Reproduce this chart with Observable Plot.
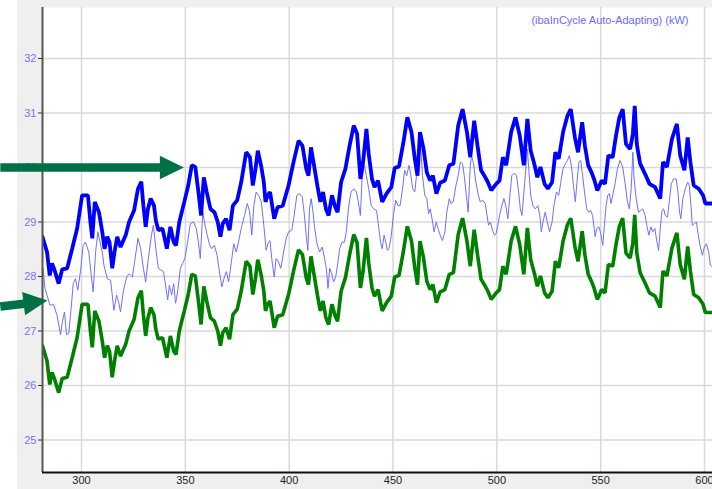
<!DOCTYPE html>
<html>
<head>
<meta charset="utf-8">
<script src="https://cdn.jsdelivr.net/npm/d3@7"></script>
<script src="https://cdn.jsdelivr.net/npm/@observablehq/plot@0.6"></script>
<style>
  html, body { margin: 0; padding: 0; background: #ffffff; }
  #chart { width: 712px; height: 489px; }
</style>
</head>
<body>
<div id="chart"></div>
<script>
// ---- axis ticks / labels ----
const xTicks = [300, 350, 400, 450, 500, 550, 600];
const yTicks = [25, 26, 27, 28, 29, 30, 31, 32];
const xDomain = [281.22, 603.85];
const yDomain = [24.404, 32.936];
const legendLabel = "(ibaInCycle Auto-Adapting) (kW)";

// ---- upper limit (thick blue) [x, kW] ----
const upper = [
[281.2,28.73],[283.4,28.45],[284.7,28.02],[285.8,28.24],[287.0,28.12],[289.0,27.87],[290.7,28.13],[293.1,28.15],
[295.5,28.51],[297.9,28.88],[300.3,29.49],[303.1,29.49],[304.3,29.00],[305.2,28.70],[306.4,29.37],[308.4,29.18],
[310.0,28.82],[311.1,28.51],[312.4,28.73],[313.5,28.63],[314.8,28.15],[315.9,28.45],[317.2,28.73],[318.8,28.54],
[321.3,28.76],[322.9,29.00],[325.3,29.21],[327.2,29.61],[328.8,29.74],[329.8,29.30],[330.9,28.91],[332.0,29.24],
[333.3,29.43],[334.9,29.30],[335.8,29.03],[337.0,28.85],[339.0,28.88],[341.1,28.51],[342.8,28.91],[344.4,28.63],
[345.5,28.57],[347.1,29.00],[349.5,29.37],[351.4,29.67],[353.1,30.04],[354.8,30.01],[356.3,29.55],[357.6,29.12],
[358.9,29.82],[360.3,29.55],[362.1,29.24],[364.0,29.18],[365.6,29.00],[366.9,28.73],[368.0,28.97],[369.6,29.06],
[371.3,28.85],[372.9,29.30],[375.0,29.40],[376.9,29.73],[379.3,30.28],[381.1,30.19],[382.5,29.67],[383.7,29.95],
[384.9,30.31],[386.6,30.01],[387.8,29.73],[388.6,29.37],[389.6,29.49],[390.8,29.55],[392.8,29.06],[394.4,29.27],
[396.9,29.30],[399.7,29.67],[402.1,30.10],[404.5,30.49],[406.4,30.40],[408.2,29.98],[409.3,29.85],[410.5,30.37],
[412.1,30.01],[413.7,29.64],[415.0,29.37],[416.3,29.55],[417.7,29.24],[419.0,29.12],[420.6,29.49],[422.2,29.27],
[423.3,29.18],[425.0,29.73],[427.1,29.98],[429.1,30.40],[431.1,30.77],[432.7,30.62],[434.3,29.79],[435.6,30.10],
[437.2,30.71],[438.3,30.25],[439.9,29.79],[441.1,29.64],[442.8,29.76],[444.8,29.37],[446.9,29.52],[449.2,29.64],
[450.8,29.99],[452.9,30.02],[455.0,30.46],[456.9,30.92],[458.9,30.65],[460.5,30.16],[461.8,29.85],[463.0,30.65],
[464.7,30.34],[466.3,29.91],[467.9,29.76],[469.2,29.85],[470.9,29.52],[472.7,29.72],[475.0,29.76],[477.1,30.04],
[479.1,30.07],[481.4,30.77],[483.5,31.07],[485.6,30.65],[487.2,30.19],[489.1,30.86],[490.7,30.40],[492.4,29.95],
[494.0,29.85],[495.7,29.73],[497.3,29.58],[499.7,29.70],[501.3,29.76],[502.9,30.19],[504.5,30.04],[506.9,30.65],
[509.0,30.92],[511.0,30.59],[513.0,30.04],[514.7,30.89],[516.3,30.31],[518.2,30.04],[519.5,29.82],[521.0,30.01],
[523.0,29.70],[524.6,29.61],[526.6,29.73],[528.2,30.28],[529.8,30.16],[531.9,30.65],[534.0,30.95],[535.6,31.07],
[537.6,30.55],[539.1,30.28],[541.1,30.83],[542.4,30.40],[544.0,30.04],[545.6,29.91],[546.8,29.79],[548.4,29.58],
[550.5,29.76],[552.1,29.70],[553.7,30.22],[555.8,30.19],[557.4,30.59],[559.0,30.92],[560.6,31.07],[562.2,30.43],
[564.2,30.34],[565.5,30.62],[566.4,31.13],[567.4,30.43],[569.0,30.07],[571.4,29.88],[573.5,29.70],[576.2,29.64],
[578.7,29.43],[580.0,30.10],[581.9,30.01],[584.3,30.52],[586.7,30.80],[588.3,30.22],[590.3,29.95],[591.9,30.55],
[593.2,30.10],[594.8,29.67],[597.2,29.61],[599.3,29.49],[600.4,29.34],[603.8,29.34]
];

// ---- lower limit (thick green) [x, kW] ----
const lower = [
[281.2,26.73],[283.4,26.45],[284.7,26.02],[285.8,26.24],[287.0,26.12],[289.0,25.87],[290.7,26.13],[293.1,26.15],
[295.5,26.51],[297.9,26.88],[300.3,27.49],[303.1,27.49],[304.3,27.00],[305.2,26.70],[306.4,27.37],[308.4,27.18],
[310.0,26.82],[311.1,26.51],[312.4,26.73],[313.5,26.63],[314.8,26.15],[315.9,26.45],[317.2,26.73],[318.8,26.54],
[321.3,26.76],[322.9,27.00],[325.3,27.21],[327.2,27.61],[328.8,27.74],[329.8,27.30],[330.9,26.91],[332.0,27.24],
[333.3,27.43],[334.9,27.30],[335.8,27.03],[337.0,26.85],[339.0,26.88],[341.1,26.51],[342.8,26.91],[344.4,26.63],
[345.5,26.57],[347.1,27.00],[349.5,27.37],[351.4,27.67],[353.1,28.04],[354.8,28.01],[356.3,27.55],[357.6,27.12],
[358.9,27.82],[360.3,27.55],[362.1,27.24],[364.0,27.18],[365.6,27.00],[366.9,26.73],[368.0,26.97],[369.6,27.06],
[371.3,26.85],[372.9,27.30],[375.0,27.40],[376.9,27.73],[379.3,28.28],[381.1,28.19],[382.5,27.67],[383.7,27.95],
[384.9,28.31],[386.6,28.01],[387.8,27.73],[388.6,27.37],[389.6,27.49],[390.8,27.55],[392.8,27.06],[394.4,27.27],
[396.9,27.30],[399.7,27.67],[402.1,28.10],[404.5,28.49],[406.4,28.40],[408.2,27.98],[409.3,27.85],[410.5,28.37],
[412.1,28.01],[413.7,27.64],[415.0,27.37],[416.3,27.55],[417.7,27.24],[419.0,27.12],[420.6,27.49],[422.2,27.27],
[423.3,27.18],[425.0,27.73],[427.1,27.98],[429.1,28.40],[431.1,28.77],[432.7,28.62],[434.3,27.79],[435.6,28.10],
[437.2,28.71],[438.3,28.25],[439.9,27.79],[441.1,27.64],[442.8,27.76],[444.8,27.37],[446.9,27.52],[449.2,27.64],
[450.8,27.99],[452.9,28.02],[455.0,28.46],[456.9,28.92],[458.9,28.65],[460.5,28.16],[461.8,27.85],[463.0,28.65],
[464.7,28.34],[466.3,27.91],[467.9,27.76],[469.2,27.85],[470.9,27.52],[472.7,27.72],[475.0,27.76],[477.1,28.04],
[479.1,28.07],[481.4,28.77],[483.5,29.07],[485.6,28.65],[487.2,28.19],[489.1,28.86],[490.7,28.40],[492.4,27.95],
[494.0,27.85],[495.7,27.73],[497.3,27.58],[499.7,27.70],[501.3,27.76],[502.9,28.19],[504.5,28.04],[506.9,28.65],
[509.0,28.92],[511.0,28.59],[513.0,28.04],[514.7,28.89],[516.3,28.31],[518.2,28.04],[519.5,27.82],[521.0,28.01],
[523.0,27.70],[524.6,27.61],[526.6,27.73],[528.2,28.28],[529.8,28.16],[531.9,28.65],[534.0,28.95],[535.6,29.07],
[537.6,28.55],[539.1,28.28],[541.1,28.83],[542.4,28.40],[544.0,28.04],[545.6,27.91],[546.8,27.79],[548.4,27.58],
[550.5,27.76],[552.1,27.70],[553.7,28.22],[555.8,28.19],[557.4,28.59],[559.0,28.92],[560.6,29.07],[562.2,28.43],
[564.2,28.34],[565.5,28.62],[566.4,29.13],[567.4,28.43],[569.0,28.07],[571.4,27.88],[573.5,27.70],[576.2,27.64],
[578.7,27.43],[580.0,28.10],[581.9,28.01],[584.3,28.52],[586.7,28.80],[588.3,28.22],[590.3,27.95],[591.9,28.55],
[593.2,28.10],[594.8,27.67],[597.2,27.61],[599.3,27.49],[600.4,27.34],[603.8,27.34]
];

// ---- measured signal (thin blue) [x, kW] ----
const signal = [
[281.5,28.15],[282.4,27.78],[283.4,27.66],[284.7,27.48],[286.6,27.48],[288.2,27.29],[289.9,26.93],[290.8,27.17],
[291.8,27.35],[292.8,26.93],[293.9,26.96],[295.0,27.41],[296.0,27.87],[297.1,27.96],[298.2,27.75],[299.5,28.09],
[300.8,28.57],[301.9,28.63],[303.5,28.45],[304.7,28.02],[305.6,27.72],[306.8,28.45],[307.9,28.82],[308.9,28.63],
[310.0,28.45],[310.8,28.21],[312.4,27.96],[314.0,27.93],[314.8,27.66],[315.6,27.38],[316.9,27.66],[318.0,27.51],
[318.8,27.35],[320.1,27.72],[321.7,27.99],[322.9,28.05],[324.5,27.99],[325.8,28.33],[327.2,28.70],[328.5,28.51],
[329.8,28.15],[330.9,27.90],[332.0,28.27],[333.7,28.76],[334.6,28.94],[335.8,28.51],[337.0,28.15],[338.2,28.12],
[339.5,28.09],[340.7,27.78],[341.5,27.57],[342.3,27.84],[343.4,27.66],[344.4,27.87],[345.3,27.51],[346.3,27.72],
[347.6,28.15],[348.7,28.24],[349.8,28.33],[351.1,28.63],[352.4,28.97],[354.0,29.00],[355.3,28.88],[356.3,28.63],
[357.2,28.33],[358.4,29.18],[359.5,28.94],[360.5,28.76],[361.6,28.60],[362.7,28.51],[364.0,28.57],[365.3,28.39],
[366.4,28.09],[367.6,27.81],[368.8,27.99],[369.8,28.09],[370.8,27.90],[372.1,28.24],[373.3,28.60],[374.5,28.45],
[375.6,28.63],[376.9,28.88],[378.5,29.12],[379.8,29.34],[380.9,29.21],[382.0,28.76],[383.0,29.30],[384.1,29.55],
[385.3,29.49],[386.6,29.37],[387.8,28.94],[388.9,28.48],[390.0,28.63],[390.8,28.66],[391.6,28.33],[392.8,27.99],
[393.7,28.33],[394.8,28.27],[396.0,28.15],[397.3,28.45],[398.6,28.70],[399.7,28.82],[401.3,28.85],[402.4,29.12],
[403.7,29.49],[405.0,29.52],[406.3,29.46],[407.2,29.18],[408.2,28.76],[409.0,28.48],[409.8,29.24],[410.6,29.43],
[411.4,29.21],[412.2,28.91],[413.4,28.60],[414.7,28.45],[415.9,28.54],[416.9,28.36],[417.9,28.15],[418.7,27.78],
[419.5,28.15],[420.5,28.05],[421.4,27.90],[422.4,27.99],[423.3,28.21],[424.3,28.51],[425.4,28.63],[426.6,28.63],
[427.5,28.82],[428.7,29.30],[429.8,29.55],[431.1,29.61],[432.4,29.55],[433.3,29.37],[434.3,29.12],[435.1,29.79],
[436.2,30.04],[437.2,29.85],[438.3,29.61],[439.5,29.30],[440.7,29.24],[442.1,29.21],[443.2,28.88],[444.0,28.63],
[444.8,28.51],[445.7,28.76],[446.5,28.63],[447.3,28.48],[448.1,28.51],[449.2,28.76],[450.2,29.12],[451.3,29.40],
[452.4,29.30],[453.4,29.30],[454.5,29.58],[455.6,29.95],[456.6,29.85],[457.7,30.04],[458.5,29.88],[459.5,29.61],
[460.5,29.55],[461.3,29.85],[462.6,30.28],[463.4,30.34],[464.2,29.85],[465.3,29.49],[466.3,29.43],[467.1,29.15],
[467.9,29.24],[468.8,29.06],[469.8,28.82],[470.8,29.00],[471.7,28.88],[472.7,28.76],[473.8,28.66],[475.0,28.82],
[475.9,29.18],[477.1,29.43],[477.9,29.34],[479.0,29.37],[480.3,29.67],[481.4,29.85],[482.4,30.10],[483.5,30.07],
[484.3,29.85],[485.3,29.49],[486.2,29.18],[487.2,30.04],[487.8,30.22],[488.8,30.07],[489.9,29.73],[491.1,29.49],
[492.0,29.37],[493.2,29.40],[494.4,29.34],[495.3,29.12],[496.0,28.94],[496.9,29.00],[497.9,28.85],[498.9,28.76],
[499.7,28.79],[500.5,28.94],[501.3,29.12],[502.4,29.30],[503.4,29.43],[504.3,29.30],[505.3,29.06],[506.3,29.49],
[507.2,29.85],[508.5,29.90],[509.5,29.85],[510.5,29.55],[511.3,29.24],[512.1,29.12],[512.9,29.49],[513.7,29.85],
[514.7,30.34],[515.5,29.91],[516.3,29.49],[517.4,29.30],[518.5,29.24],[519.8,29.30],[520.8,29.09],[521.4,28.82],
[522.2,29.00],[523.3,29.18],[524.3,29.00],[525.4,28.82],[526.6,29.00],[527.5,29.30],[528.7,29.55],[529.8,29.49],
[530.8,29.73],[531.9,29.98],[533.0,30.07],[534.0,30.13],[534.9,30.22],[535.9,30.04],[536.9,29.67],[537.8,29.37],
[538.6,29.73],[539.5,30.10],[540.4,30.13],[541.4,29.82],[542.4,29.49],[543.3,29.24],[544.3,29.18],[545.2,29.21],
[546.1,29.12],[546.9,28.88],[547.3,28.73],[548.1,28.88],[549.2,28.91],[550.2,28.76],[551.0,28.57],[551.8,28.94],
[552.6,29.30],[553.4,29.49],[554.2,29.52],[555.0,29.34],[555.8,29.49],[556.9,29.70],[558.1,29.98],[559.3,30.13],
[560.6,30.01],[561.8,29.70],[562.9,29.37],[563.8,29.24],[564.7,29.61],[565.5,30.28],[566.1,29.79],[567.1,29.43],
[568.2,29.18],[569.3,29.21],[570.3,29.24],[571.4,29.12],[572.2,28.94],[573.2,28.76],[574.2,28.91],[575.1,28.82],
[576.1,28.88],[577.1,28.63],[577.9,28.48],[578.7,28.88],[579.5,29.21],[580.3,29.24],[581.1,29.12],[582.2,29.09],
[583.2,29.43],[584.0,29.70],[585.1,29.79],[586.4,29.79],[587.2,29.55],[588.0,29.18],[588.6,29.06],[589.6,29.43],
[590.7,29.61],[591.9,29.73],[592.7,29.67],[593.5,29.30],[594.1,28.94],[595.1,28.97],[596.1,29.00],[597.0,28.76],
[598.0,28.54],[599.0,28.39],[599.9,28.54],[600.9,28.60],[602.0,28.45],[602.8,28.21],[603.8,28.18]
];

// ---- annotation arrows (data units) ----
const arrowShafts = [
  {x1: 260.9, y1: 30.00, x2: 340.1, y2: 30.00},
  {x1: 260.9, y1: 27.45, x2: 274.4, y2: 27.51}
];
const arrowTipUpper = [{x: 349.3, y: 30.00}];
const arrowTipLower = [{x: 283.6, y: 27.56}];

// arrowhead symbol: tip at the origin, pointing along angle (degrees, screen coords)
function headSymbol(angleDeg, len, halfW) {
  const a = angleDeg * Math.PI / 180, c = Math.cos(a), s = Math.sin(a);
  const rot = (x, y) => [x * c - y * s, x * s + y * c];
  return {
    draw(ctx) {
      const p0 = rot(0, 0), p1 = rot(-len, -halfW), p2 = rot(-len, halfW);
      ctx.moveTo(p0[0], p0[1]);
      ctx.lineTo(p1[0], p1[1]);
      ctx.lineTo(p2[0], p2[1]);
      ctx.closePath();
    }
  };
}

const arrowColor = "#007046";
const X = d => d[0], Y = d => d[1];

const chart = Plot.plot({
  width: 712,
  height: 489,
  marginLeft: 42,
  marginRight: 0,
  marginTop: 7,
  marginBottom: 17,
  style: {
    background: "linear-gradient(to right, #ffffff 17px, #efefef 17px)",
    fontFamily: "'Liberation Sans', Arial, sans-serif",
    fontSize: "11px",
    overflow: "visible"
  },
  x: {domain: xDomain},
  y: {domain: yDomain},
  marks: [
    Plot.frame({fill: "#ffffff", stroke: "none"}),
    Plot.gridX({ticks: xTicks, stroke: "#d9d9d9", strokeOpacity: 1, strokeWidth: 1.5}),
    Plot.gridY({ticks: yTicks, stroke: "#d9d9d9", strokeOpacity: 1, strokeWidth: 1.5}),
    Plot.line(signal, {x: X, y: Y, stroke: "#7070ff", strokeWidth: 1, strokeLinejoin: "miter", clip: true}),
    Plot.line(lower, {x: X, y: Y, stroke: "#008000", strokeWidth: 3.6, strokeLinejoin: "miter", clip: true}),
    Plot.line(upper, {x: X, y: Y, stroke: "#0000ff", strokeWidth: 3.8, strokeLinejoin: "miter", clip: true}),
    Plot.ruleX([xDomain[0]], {stroke: "#555555", strokeWidth: 2}),
    Plot.ruleY([yDomain[0]], {stroke: "#111111", strokeWidth: 2}),
    Plot.axisY({ticks: yTicks, tickSize: 4, tickPadding: 2, color: "#7373ff", stroke: "#333333", label: null, tickFormat: d => String(d)}),
    Plot.axisX({ticks: xTicks, tickSize: 0, tickPadding: 4, color: "#222222", label: null, tickFormat: d => String(d)}),
    Plot.text([legendLabel], {frameAnchor: "top-right", text: d => d, dx: -24, dy: 13, textAnchor: "end", lineAnchor: "middle", fill: "#6a6aff"}),
    Plot.link(arrowShafts, {x1: "x1", y1: "y1", x2: "x2", y2: "y2", stroke: arrowColor, strokeWidth: 8.5}),
    Plot.dot(arrowTipUpper, {x: "x", y: "y", symbol: headSymbol(0, 24, 11.7), fill: arrowColor, stroke: "none"}),
    Plot.dot(arrowTipLower, {x: "x", y: "y", symbol: headSymbol(-7.3, 24, 11.7), fill: arrowColor, stroke: "none"})
  ]
});
document.getElementById("chart").appendChild(chart);
</script>
</body>
</html>
